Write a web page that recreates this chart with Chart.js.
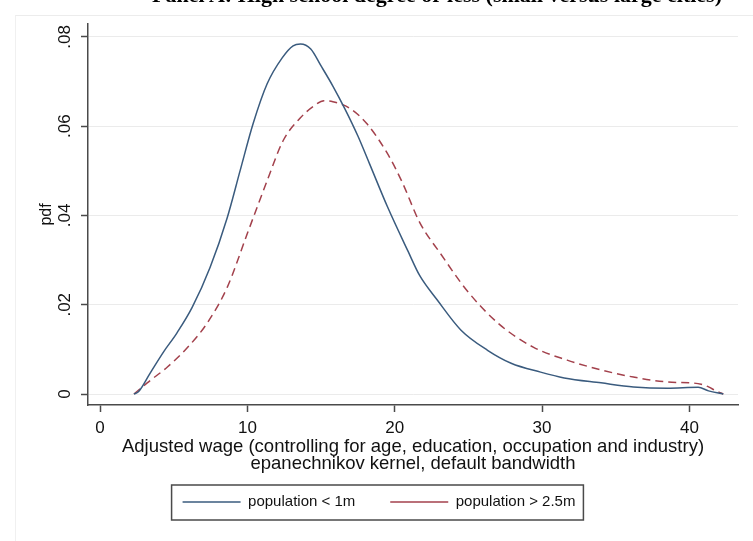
<!DOCTYPE html>
<html><head><meta charset="utf-8">
<script src="https://cdn.jsdelivr.net/npm/chart.js@4.4.1/dist/chart.umd.min.js"></script>
<style>
html,body{margin:0;padding:0;background:#fff;}
#wrap{position:relative;width:753px;height:541px;overflow:hidden;background:#fff;}
#frame{position:absolute;left:15px;top:15px;width:740px;height:530px;border-top:1px solid #ececec;border-left:1px solid #f0f0f0;}
#title{position:absolute;top:-16px;right:31px;font:bold 22px "Liberation Serif","Times New Roman",serif;line-height:22px;white-space:nowrap;color:#000;}
canvas{position:absolute;left:0;top:0;}
</style></head><body>
<div id="wrap">
<div id="frame"></div>
<canvas id="c" width="753" height="541"></canvas>
<div id="title">Panel A: High school degree or less (small versus large cities)</div>
</div>
<script>
// Series: population < 1m (solid)
const wageSmall = [2.3, 2.6, 3.4, 4.3, 5.2, 6.25, 7.47, 8.63, 9.51, 10.39, 11.34, 12.36, 13.1, 13.6, 14.3, 15.0, 15.8, 16.6, 17.5, 18.3, 19.5, 20.9, 21.7, 22.9, 24.5, 26.3, 27.9, 29.9, 31.5, 34.0, 36.2, 38.5, 40.6, 41.3, 42.3];
const pdfSmall  = [0, 0.0005, 0.0047, 0.0094, 0.0136, 0.0194, 0.0284, 0.0395, 0.0501, 0.0606, 0.0695, 0.0753, 0.0780, 0.0784, 0.0773, 0.0735, 0.0690, 0.0640, 0.0578, 0.0515, 0.0420, 0.0320, 0.0265, 0.0210, 0.0143, 0.0098, 0.0069, 0.0049, 0.0036, 0.0025, 0.0016, 0.0013, 0.0015, 0.0007, 0];
// Series: population > 2.5m (dashed)
const wageLarge = [2.3, 3.2, 4.55, 5.9, 7.27, 8.63, 10.0, 11.34, 12.43, 13.6, 14.5, 15.2, 15.8, 17.0, 18.1, 19.5, 20.5, 21.7, 23.1, 24.9, 27.0, 29.4, 31.7, 34.0, 36.2, 38.5, 40.1, 40.8, 41.3, 41.8, 42.3];
const pdfLarge  = [0, 0.0025, 0.0060, 0.0103, 0.0159, 0.0239, 0.0360, 0.0478, 0.0568, 0.0619, 0.0645, 0.0657, 0.0655, 0.0639, 0.0606, 0.0539, 0.0475, 0.0384, 0.0315, 0.0232, 0.0159, 0.0105, 0.0076, 0.0054, 0.0038, 0.0027, 0.0025, 0.0022, 0.0016, 0.0007, 0];
const seriesLabels = ['population < 1m', 'population > 2.5m'];
const xTicks = [0, 10, 20, 30, 40];
const yTicks = [0, 0.02, 0.04, 0.06, 0.08];
const yTickLabels = ['0', '.02', '.04', '.06', '.08'];
const xTitle = ['Adjusted wage (controlling for age, education, occupation and industry)', 'epanechnikov kernel, default bandwidth'];
const yTitle = 'pdf';

const FONT = '"Liberation Sans", Arial, sans-serif';
const toXY = (xs, ys) => xs.map((x, i) => ({x: x, y: ys[i]}));

const legendBox = {
  id: 'legendBox',
  afterDraw(chart) {
    const lg = chart.legend;
    if (!lg || !lg.legendHitBoxes || !lg.legendHitBoxes.length) return;
    const hb = lg.legendHitBoxes;
    const last = hb[hb.length - 1];
    const left = hb[0].left - 11;
    const right = last.left + last.width + 8;
    const cy = hb[0].top + hb[0].height / 2;
    const ctx = chart.ctx;
    ctx.save();
    ctx.strokeStyle = '#4a4a4a';
    ctx.lineWidth = 1.5;
    ctx.strokeRect(left, cy - 17, right - left, 35);
    ctx.restore();
  }
};

new Chart(document.getElementById('c'), {
  type: 'line',
  data: {
    datasets: [
      { label: seriesLabels[0], data: toXY(wageSmall, pdfSmall), borderColor: '#3a5b7e', borderWidth: 1.5,
        pointRadius: 0, fill: false, cubicInterpolationMode: 'monotone' },
      { label: seriesLabels[1], data: toXY(wageLarge, pdfLarge), borderColor: '#a3414c', borderWidth: 1.5,
        borderDash: [8, 5], pointRadius: 0, fill: false, cubicInterpolationMode: 'monotone' }
    ]
  },
  options: {
    responsive: false,
    animation: false,
    events: [],
    layout: { padding: { left: 20, right: 15, top: 24, bottom: 21.5 } },
    plugins: {
      title: { display: false },
      tooltip: { enabled: false },
      legend: {
        display: true,
        position: 'bottom',
        align: 'center',
        labels: {
          usePointStyle: true,
          pointStyle: 'line',
          pointStyleWidth: 58,
          padding: 35,
          color: '#111',
          font: { family: FONT, size: 15 }
        }
      }
    },
    scales: {
      x: {
        type: 'linear',
        min: -0.82,
        max: 43.3,
        afterBuildTicks: s => { s.ticks = xTicks.map(v => ({value: v})); },
        afterFit: s => { s.height = 54.5; },
        grid: { drawOnChartArea: false, drawTicks: true, tickLength: 7, tickColor: '#4a4a4a', tickWidth: 1.5 },
        border: { display: true, color: '#4a4a4a', width: 1.5 },
        ticks: { color: '#111', padding: 6, maxRotation: 0, font: { family: FONT, size: 17 } },
        title: { display: true, text: xTitle, color: '#111', padding: { top: 0, bottom: -12.5 },
                 font: { family: FONT, size: 18.5, lineHeight: '16.5px' } }
      },
      y: {
        type: 'linear',
        min: -0.00246,
        max: 0.0829,
        afterBuildTicks: s => { s.ticks = yTicks.map(v => ({value: v})); },
        afterFit: s => { s.width = 68; },
        grid: { drawOnChartArea: true, color: '#ebebeb', lineWidth: 1, drawTicks: true, tickLength: 7, tickColor: '#4a4a4a', tickWidth: 1.5 },
        border: { display: true, color: '#4a4a4a', width: 1.5 },
        ticks: {
          color: '#111', padding: 3.5, minRotation: 90, maxRotation: 90, crossAlign: 'center',
          font: { family: FONT, size: 17 },
          callback: (v, i) => yTickLabels[yTicks.indexOf(v)] ?? ''
        },
        title: { display: true, text: yTitle, color: '#111', padding: { top: 17.4, bottom: 0 },
                 font: { family: FONT, size: 16, lineHeight: 1.2 } }
      }
    }
  },
  plugins: [legendBox]
});
</script>
</body></html>
